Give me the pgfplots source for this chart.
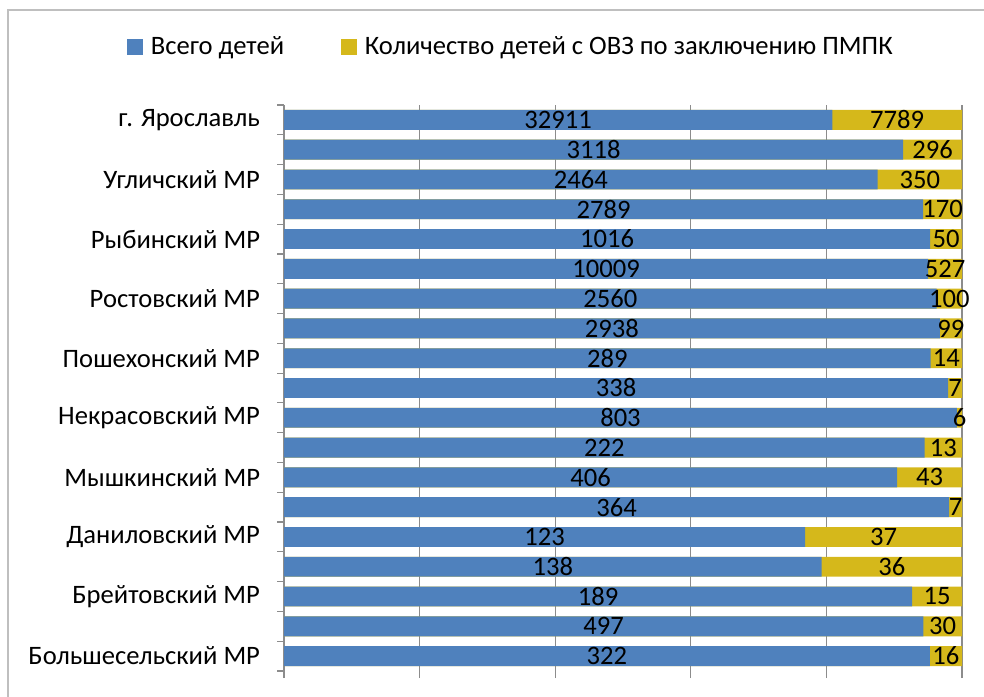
\documentclass[border=0pt]{standalone}
\usepackage{fontspec}
\setmainfont{Carlito}
\usepackage{pgfplots}
\usepackage{pgfplotstable}
\pgfplotsset{compat=1.18}
\definecolor{cblue}{HTML}{4F81BD}
\definecolor{cyel}{HTML}{D5B81B}
\definecolor{cgrid}{HTML}{8C8C8C}
\pgfplotstableread{
y a b
0 322 16
1 497 30
2 189 15
3 138 36
4 123 37
5 364 7
6 406 43
7 222 13
8 803 6
9 338 7
10 289 14
11 2938 99
12 2560 100
13 10009 527
14 1016 50
15 2789 170
16 2464 350
17 3118 296
18 32911 7789
}\datatab
\begin{document}
\begin{tikzpicture}
\useasboundingbox (0,0) rectangle (492pt,348pt);
\draw[gray!50, line width=0.6pt] (4pt,-1pt) -- (4pt,343pt) -- (493pt,343pt);
\begin{axis}[
  at={(142pt,12.5pt)}, anchor=south west,
  width=339pt, height=283pt, scale only axis,
  xmin=0, xmax=100, ymin=-0.5, ymax=18.5,
  clip=false,
  axis line style={draw=none},
  tick pos=left, tick align=outside,
  major tick length=3.5pt,
  xtick={0,20,...,100}, xticklabels={},
  xmajorgrids, grid style={cgrid, line width=0.6pt},
  xtick style={cgrid, line width=0.6pt},
  ytick={0,2,...,18},
  yticklabels={Большесельский МР, Брейтовский МР, Даниловский МР, Мышкинский МР, Некрасовский МР, Пошехонский МР, Ростовский МР, Рыбинский МР, Угличский МР, г. Ярославль},
  ytick style={draw=none},
  extra y ticks={-0.5,0.5,...,18.5},
  extra y tick labels={},
  extra y tick style={ytick style={draw=cgrid, line width=0.6pt}},
  yticklabel style={font=\fontsize{13.3}{15}\selectfont, xshift=-5pt},
  legend style={at={(0.336,1.1025)}, anchor=center, draw=none, legend columns=2,
    font=\fontsize{13.3}{15}\selectfont,
    /tikz/every even column/.append style={column sep=26.5pt},
    /tikz/every odd column/.append style={column sep=2pt}},
  legend image code/.code={\fill[#1] (0pt,-3.75pt) rectangle (7.5pt,3.75pt);},
  every node near coord/.style={anchor=center, font=\fontsize{13.3}{15}\selectfont, inner sep=0pt},
]
\addlegendimage{cblue}
\addlegendentry{Всего детей}
\addlegendimage{cyel}
\addlegendentry{Количество детей с ОВЗ по заключению ПМПК}
\addplot[xbar, bar width=0.667, bar shift=0pt, fill=cyel, draw=none, forget plot]
  table[x expr={100}, y=y] {\datatab};
\addplot[xbar, bar width=0.667, bar shift=0pt, fill=cblue, draw=none, forget plot]
  table[x expr={100*\thisrow{a}/(\thisrow{a}+\thisrow{b})}, y=y] {\datatab};
\addplot[draw=none, mark=none, forget plot, nodes near coords, point meta=explicit symbolic]
  table[x expr={50*\thisrow{a}/(\thisrow{a}+\thisrow{b})}, y=y, meta=a] {\datatab};
\addplot[draw=none, mark=none, forget plot, nodes near coords, point meta=explicit symbolic]
  table[x expr={50+50*\thisrow{a}/(\thisrow{a}+\thisrow{b})}, y=y, meta=b] {\datatab};
\end{axis}
\end{tikzpicture}
\end{document}
